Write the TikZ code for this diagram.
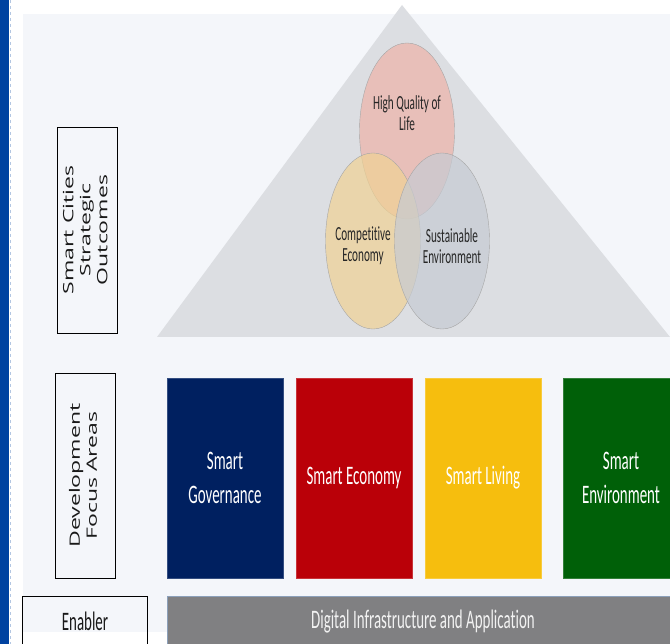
\documentclass[tikz,border=0pt]{standalone}
\usepackage{fontspec}
\newfontfamily\slimfont[FakeStretch=0.56, Ligatures=NoCommon]{Carlito}
\newfontfamily\sidefont{Open Sans}
\usetikzlibrary{shapes.geometric}

\definecolor{stripblue}{RGB}{0,66,160}
\definecolor{panelgray}{RGB}{244,246,250}
\definecolor{pyramidgray}{RGB}{220,222,226}
\definecolor{lifepink}{RGB}{238,178,168}
\definecolor{econtan}{RGB}{240,210,148}
\definecolor{envgray}{RGB}{198,203,211}
\definecolor{govblue}{RGB}{0,32,96}
\definecolor{econred}{RGB}{186,0,8}
\definecolor{livingyellow}{RGB}{246,190,14}
\definecolor{envgreen}{RGB}{0,96,8}
\definecolor{infragray}{RGB}{128,128,130}
\definecolor{infraline}{RGB}{140,160,186}

% squeeze rotated labels across their lines
\newcommand{\squash}[1]{\scalebox{1}[0.62]{#1}}

\begin{document}
\begin{tikzpicture}[
    x=1pt, y=-1pt,
    outcome/.style={
        ellipse, draw=gray!70, line width=0.4pt,
        minimum width=95pt, minimum height=176pt,
        fill=#1, fill opacity=0.7
    },
    outcometext/.style={
        font=\slimfont\fontsize{20}{21}\selectfont,
        align=center, text=black!85, inner sep=0pt
    },
    focus/.style={
        rectangle, fill=#1, draw=#1!80!white, line width=0.5pt,
        minimum width=116pt, minimum height=200pt,
        font=\slimfont\fontsize{26.7}{34}\selectfont,
        align=center, text=white
    },
    sidelabel/.style={
        draw=black, line width=0.6pt, rectangle,
        minimum width=60pt, minimum height=206pt
    },
    sidetext/.style={
        rotate=90, inner sep=0pt, text=black!90,
        font=\sidefont\fontsize{23}{27.5}\selectfont
    }
]
    \clip (0,0) rectangle (670,644);
    \useasboundingbox (0,0) rectangle (670,644);

    % Page background
    \fill[white] (0,0) rectangle (670,644);
    \fill[stripblue] (0,0) rectangle (9,644);
    \draw[stripblue!30, dashed, line width=0.4pt] (10,0) -- (10,644);
    \fill[panelgray] (23,14) rectangle (670,632);

    % Strategic outcomes (pyramid + Venn)
    \fill[pyramidgray] (402,5) -- (157,337) -- (670,337) -- cycle;
    \node[outcome=lifepink] (life) at (407,131) {};
    \node[outcome=econtan] (comp) at (373,241) {};
    \node[outcome=envgray] (sust) at (442,241) {};
    \node[outcometext] (lifetext) at (407,113) {High Quality of\\Life};
    \node[outcometext] (comptext) at (363,246) {Competitive\\Economy};
    \node[outcometext] (susttext) at (452,246) {Sustainable\\Environment};

    % Development focus areas
    \node[focus=govblue] (gov) at (225,478) {Smart\\Governance};
    \node[focus=econred] (econ) at (354,478) {Smart Economy};
    \node[focus=livingyellow] (living) at (483,478) {Smart Living};
    \node[focus=envgreen] (env) at (621,478) {Smart\\Environment};

    % Enabler
    \node[rectangle, fill=infragray, draw=infraline, line width=0.6pt,
          minimum width=514pt, minimum height=60pt, anchor=north west] (infra) at (167,596) {};
    \node[font=\slimfont\fontsize{26.7}{30}\selectfont, text=white!95!black] (infratext) at (423,622)
        {Digital Infrastructure and Application};

    % Left-hand row labels
    \node[sidelabel] (outbox) at (87,230) {};
    \node[sidetext] (outtext) at (outbox.center)
        {\squash{\begin{tabular}{@{}c@{}}Smart Cities\\Strategic\\Outcomes\end{tabular}}};
    \node[sidelabel, minimum height=205pt] (focbox) at (85,475.5) {};
    \node[sidetext] (foctext) at (focbox.center)
        {\squash{\begin{tabular}{@{}c@{}}Development\\Focus Areas\end{tabular}}};
    \node[draw=black, line width=0.6pt, rectangle, minimum width=125pt, minimum height=60pt,
          anchor=north west] (enabbox) at (22,596) {};
    \node[font=\slimfont\fontsize{26.7}{30}\selectfont, text=black!90] (enabtext) at (85,621) {Enabler};

\end{tikzpicture}
\end{document}
